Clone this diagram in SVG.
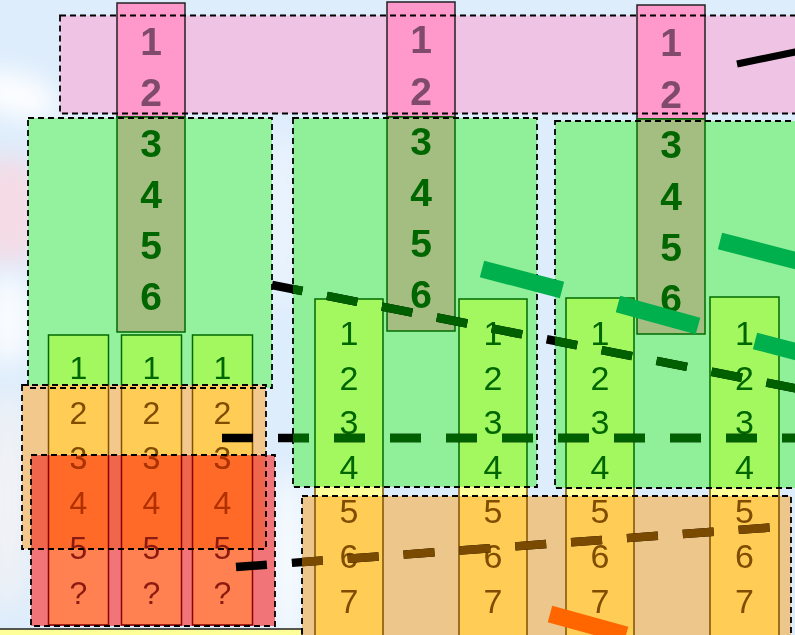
<svg xmlns="http://www.w3.org/2000/svg" width="795" height="635" viewBox="0 0 795 635">
<style>
.bd{fill:none;stroke:#000;stroke-width:1.8;stroke-dasharray:6 4}
.tb{font-family:"Liberation Sans",Arial,sans-serif;font-weight:bold;font-size:39px;text-anchor:middle}
.ts{font-family:"Liberation Sans",Arial,sans-serif;font-size:32px;text-anchor:middle}
.tt{font-family:"Liberation Sans",Arial,sans-serif;font-size:34px;text-anchor:middle}
.pk{fill:#7f4a6c}.dg{fill:#006600}.br{fill:#7f4c00}.rd{fill:#b03000}.dr{fill:#8b1a10}
.sg{stroke:#006a00;stroke-width:1.5;fill:none}.so{stroke:#7f5200;stroke-width:1.5;fill:none}.sr{stroke:#8b0000;stroke-width:1.5;fill:none}
.dash{fill:none;stroke-width:8.5;stroke-dasharray:31 25}
.seg{fill:none;stroke-width:17}
</style>
<defs>
<filter id="blur" x="-50%" y="-50%" width="200%" height="200%"><feGaussianBlur stdDeviation="12"/></filter>
<clipPath id="clipG"><rect x="293" y="118" width="244" height="369"/><rect x="555" y="121" width="250" height="367"/></clipPath>
<clipPath id="clipO2"><rect x="302" y="496" width="489" height="150"/></clipPath>
<clipPath id="clipR"><rect x="0" y="455" width="300" height="94"/></clipPath>
</defs>
<rect width="795" height="635" fill="#deedfc"/>
<g filter="url(#blur)">
<ellipse cx="15" cy="95" rx="45" ry="22" fill="#ffffff" opacity="0.9" transform="rotate(15 15 95)"/>
<ellipse cx="10" cy="210" rx="30" ry="55" fill="#fbd6de" opacity="0.8"/>
<ellipse cx="8" cy="320" rx="25" ry="45" fill="#ffffff" opacity="0.8"/>
<ellipse cx="8" cy="500" rx="22" ry="110" fill="#f2f2f4" opacity="0.9"/>
<ellipse cx="288" cy="560" rx="16" ry="90" fill="#ffffff" opacity="0.8"/>
<ellipse cx="283" cy="220" rx="10" ry="90" fill="#ffffff" opacity="0.6"/>
</g>
<g id="containers">
<g id="lane-pink"><rect x="60" y="15.5" width="745" height="98" fill="#efc3e4"/></g>
<g id="group-green-1"><rect x="28" y="118" width="244" height="270" fill="#94f29e"/></g>
<g id="group-green-2"><rect x="293" y="118" width="244" height="369" fill="#90f09a"/></g>
<g id="group-green-3"><rect x="555" y="121" width="250" height="367" fill="#90f09a"/></g>
<g id="group-orange-1"><rect x="22" y="385" width="244" height="164" fill="#f2c88c"/></g>
<g id="group-red-1"><rect x="31" y="455" width="244" height="171" fill="#f07478"/><rect x="31" y="455" width="235" height="94" fill="#f0664c"/></g>
<g id="group-orange-2"><rect x="302" y="496" width="489" height="150" fill="#ecc68a"/></g>
<g id="box-yellow-bottom"><rect x="-2" y="629" width="304" height="20" fill="#ffff99" stroke="#222" stroke-width="1.5"/></g>
</g>
<g id="columns">
<g id="col-a">
<rect x="117" y="3" width="68" height="114" fill="#ff99cc" stroke="#222" stroke-width="1.5"/>
<rect x="117" y="117" width="68" height="215" fill="#a4be82" stroke="#006a00" stroke-width="1.5"/>
<text x="151" y="55" class="tb pk">1</text><text x="151" y="106" class="tb pk">2</text>
<text x="151" y="157" class="tb dg">3</text><text x="151" y="208" class="tb dg">4</text><text x="151" y="259" class="tb dg">5</text><text x="151" y="310" class="tb dg">6</text>
</g>
<g id="col-b">
<rect x="387" y="2" width="68" height="115" fill="#ff99cc" stroke="#222" stroke-width="1.5"/>
<rect x="387" y="117" width="68" height="214" fill="#a4be82" stroke="#006a00" stroke-width="1.5"/>
<text x="421" y="53" class="tb pk">1</text><text x="421" y="105" class="tb pk">2</text>
<text x="421" y="155" class="tb dg">3</text><text x="421" y="206" class="tb dg">4</text><text x="421" y="257" class="tb dg">5</text><text x="421" y="308" class="tb dg">6</text>
</g>
<g id="col-c">
<rect x="637" y="5" width="68" height="114" fill="#ff99cc" stroke="#222" stroke-width="1.5"/>
<rect x="637" y="119" width="68" height="215" fill="#a4be82" stroke="#006a00" stroke-width="1.5"/>
<text x="671" y="56" class="tb pk">1</text><text x="671" y="108" class="tb pk">2</text>
<text x="671" y="158" class="tb dg">3</text><text x="671" y="210" class="tb dg">4</text><text x="671" y="261" class="tb dg">5</text><text x="671" y="312" class="tb dg">6</text>
</g>
</g>
<g id="small-boxes">
<g id="small-1" transform="translate(48.5 0)">
<rect x="0" y="335" width="60" height="50" fill="#a3f860"/><rect x="0" y="385" width="60" height="70" fill="#ffcc55"/><rect x="0" y="455" width="60" height="94" fill="#ff6a28"/><rect x="0" y="549" width="60" height="76" fill="#ff8050"/>
<path d="M0 385V335H60V385" class="sg"/><path d="M0 385V455M60 385V455" class="so"/><path d="M0 455V625H60V455" class="sr"/>
</g>
<g id="small-2" transform="translate(121.5 0)">
<rect x="0" y="335" width="60" height="50" fill="#a3f860"/><rect x="0" y="385" width="60" height="70" fill="#ffcc55"/><rect x="0" y="455" width="60" height="94" fill="#ff6a28"/><rect x="0" y="549" width="60" height="76" fill="#ff8050"/>
<path d="M0 385V335H60V385" class="sg"/><path d="M0 385V455M60 385V455" class="so"/><path d="M0 455V625H60V455" class="sr"/>
</g>
<g id="small-3" transform="translate(192.5 0)">
<rect x="0" y="335" width="60" height="50" fill="#a3f860"/><rect x="0" y="385" width="60" height="70" fill="#ffcc55"/><rect x="0" y="455" width="60" height="94" fill="#ff6a28"/><rect x="0" y="549" width="60" height="76" fill="#ff8050"/>
<path d="M0 385V335H60V385" class="sg"/><path d="M0 385V455M60 385V455" class="so"/><path d="M0 455V625H60V455" class="sr"/>
</g>
<g id="small-text">
<text x="78.5" y="379" class="ts dg">1</text><text x="151.5" y="379" class="ts dg">1</text><text x="222.5" y="379" class="ts dg">1</text>
<text x="78.5" y="424" class="ts br">2</text><text x="151.5" y="424" class="ts br">2</text><text x="222.5" y="424" class="ts br">2</text>
<text x="78.5" y="469" class="ts br">3</text><text x="151.5" y="469" class="ts br">3</text><text x="222.5" y="469" class="ts br">3</text>
<g clip-path="url(#clipR)"><text x="78.5" y="469" class="ts rd">3</text><text x="151.5" y="469" class="ts rd">3</text><text x="222.5" y="469" class="ts rd">3</text></g>
<text x="78.5" y="514" class="ts rd">4</text><text x="151.5" y="514" class="ts rd">4</text><text x="222.5" y="514" class="ts rd">4</text>
<text x="78.5" y="559" class="ts dr">5</text><text x="151.5" y="559" class="ts dr">5</text><text x="222.5" y="559" class="ts dr">5</text>
<text x="78.5" y="604" class="ts dr">?</text><text x="151.5" y="604" class="ts dr">?</text><text x="222.5" y="604" class="ts dr">?</text>
</g>
</g>
<g id="tall-boxes">
<g id="tall-d">
<rect x="315" y="299" width="68" height="188" fill="#a3f860"/><rect x="315" y="487" width="68" height="9" fill="#ffff99"/><rect x="315" y="496" width="68" height="150" fill="#ffcc55"/>
<path d="M315 487V299H383V487" class="sg"/><path d="M315 487V640M383 487V640" class="so"/>
</g>
<g id="tall-e">
<rect x="459" y="299" width="68" height="188" fill="#a3f860"/><rect x="459" y="487" width="68" height="9" fill="#ffff99"/><rect x="459" y="496" width="68" height="150" fill="#ffcc55"/>
<path d="M459 487V299H527V487" class="sg"/><path d="M459 487V640M527 487V640" class="so"/>
</g>
<g id="tall-f">
<rect x="566" y="298" width="68" height="190" fill="#a3f860"/><rect x="566" y="488" width="68" height="8" fill="#ffff99"/><rect x="566" y="496" width="68" height="150" fill="#ffcc55"/>
<path d="M566 488V298H634V488" class="sg"/><path d="M566 488V640M634 488V640" class="so"/>
</g>
<g id="tall-g">
<rect x="710" y="297" width="69" height="191" fill="#a3f860"/><rect x="710" y="488" width="69" height="8" fill="#ffff99"/><rect x="710" y="496" width="69" height="150" fill="#ffcc55"/>
<path d="M710 488V297H779V488" class="sg"/><path d="M710 488V640M779 488V640" class="so"/>
</g>
<g id="tall-text">
<text x="349" y="345" class="tt dg">1</text><text x="349" y="390" class="tt dg">2</text><text x="349" y="434" class="tt dg">3</text><text x="349" y="479" class="tt dg">4</text>
<text x="349" y="523" class="tt br">5</text><text x="349" y="568" class="tt br">6</text><text x="349" y="613" class="tt br">7</text><text x="349" y="658" class="tt br">8</text>
<text x="493" y="345" class="tt dg">1</text><text x="493" y="390" class="tt dg">2</text><text x="493" y="434" class="tt dg">3</text><text x="493" y="479" class="tt dg">4</text>
<text x="493" y="523" class="tt br">5</text><text x="493" y="568" class="tt br">6</text><text x="493" y="613" class="tt br">7</text><text x="493" y="658" class="tt br">8</text>
<text x="600" y="345" class="tt dg">1</text><text x="600" y="390" class="tt dg">2</text><text x="600" y="434" class="tt dg">3</text><text x="600" y="479" class="tt dg">4</text>
<text x="600" y="523" class="tt br">5</text><text x="600" y="568" class="tt br">6</text><text x="600" y="613" class="tt br">7</text><text x="600" y="658" class="tt br">8</text>
<text x="744.5" y="345" class="tt dg">1</text><text x="744.5" y="390" class="tt dg">2</text><text x="744.5" y="434" class="tt dg">3</text><text x="744.5" y="479" class="tt dg">4</text>
<text x="744.5" y="523" class="tt br">5</text><text x="744.5" y="568" class="tt br">6</text><text x="744.5" y="613" class="tt br">7</text><text x="744.5" y="658" class="tt br">8</text>
</g>
</g>
<g id="container-borders">
<rect x="60" y="15.5" width="745" height="98" class="bd"/>
<rect x="28" y="118" width="244" height="270" class="bd"/>
<rect x="293" y="118" width="244" height="369" class="bd"/>
<rect x="555" y="121" width="250" height="367" class="bd"/>
<rect x="22" y="385" width="244" height="164" class="bd"/>
<rect x="31" y="455" width="244" height="171" class="bd"/>
<rect x="302" y="496" width="489" height="150" class="bd"/>
</g>
<g id="connectors">
<path d="M737 64L800 51" stroke="#000" stroke-width="7" fill="none"/>
<path d="M272 285L800 389.2" class="dash" stroke="#000"/>
<path d="M272 285L800 389.2" class="dash" stroke="#006000" clip-path="url(#clipG)"/>
<path d="M222 438H800" class="dash" stroke="#000"/>
<path d="M222 438H800" class="dash" stroke="#006000" clip-path="url(#clipG)"/>
<path d="M236 567L772 527.4" class="dash" stroke="#000"/>
<path d="M236 567L772 527.4" class="dash" stroke="#7a4a00" clip-path="url(#clipO2)"/>
<path d="M482 269L562 290" class="seg" stroke="#00b04c"/>
<path d="M618 304L698 326" class="seg" stroke="#00b04c"/>
<path d="M720 241L805 263" class="seg" stroke="#00b04c"/>
<path d="M755 341L805 354" class="seg" stroke="#00b04c"/>
<path d="M550 614L626 635" class="seg" stroke="#ff6600"/>
</g>
</svg>
